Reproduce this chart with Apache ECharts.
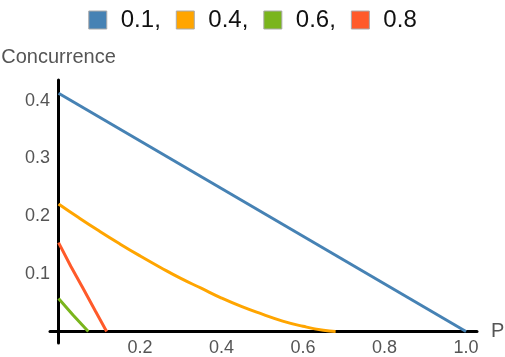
<!DOCTYPE html>
<html>
<head>
<meta charset="utf-8">
<script src="https://cdn.jsdelivr.net/npm/echarts@6/dist/echarts.min.js"></script>
<style>html,body{margin:0;padding:0;background:#fff}#c{width:505px;height:357px}</style>
</head>
<body>
<div id="c"></div>
<script>
var seriesNames = ['0.1,', '0.4,', '0.6,', '0.8'];
var seriesColors = ['#4682B4', '#FFA500', '#7AB51D', '#FF5A2A'];
var pBlue = [0, 1.0];
var cBlue = [0.413, 0];
var pOrange = [0, 0.05, 0.1, 0.15, 0.2, 0.25, 0.3, 0.35, 0.4, 0.45, 0.5, 0.55, 0.6, 0.65, 0.68];
var cOrange = [0.221, 0.197, 0.174, 0.152, 0.131, 0.111, 0.092, 0.075, 0.058, 0.043, 0.030, 0.018, 0.009, 0.002, 0];
var pGreen = [0, 0.036, 0.073];
var cGreen = [0.057, 0.028, 0];
var pRed = [0, 0.03, 0.06, 0.09, 0.118];
var cRed = [0.154, 0.113, 0.075, 0.036, 0];
var xTicks = [0.2, 0.4, 0.6, 0.8, 1.0];
var yTicks = [0.1, 0.2, 0.3, 0.4];

function zip(a, b) { return a.map(function (v, i) { return [v, b[i]]; }); }
var allP = [pBlue, pOrange, pGreen, pRed];
var allC = [cBlue, cOrange, cGreen, cRed];

var chart = echarts.init(document.getElementById('c'), null, {renderer: 'canvas'});
var textColor = '#555';
var font = 'Liberation Sans, Arial, sans-serif';
chart.setOption({
  animation: false,
  textStyle: {fontFamily: font},
  legend: {
    top: 3,
    left: 'center',
    itemWidth: 18,
    itemHeight: 18,
    itemGap: 15,
    icon: 'rect',
    itemStyle: {borderColor: '#aaa', borderWidth: 1},
    textStyle: {fontSize: 24, color: '#111', fontFamily: font, padding: [0, 0, 0, 9]},
    data: seriesNames
  },
  grid: {left: 50, right: 28, top: 80, bottom: 14, containLabel: false, outerBoundsMode: 'none'},
  xAxis: {
    type: 'value',
    min: -0.021,
    max: 1.027,
    name: 'P',
    nameLocation: 'end',
    nameGap: 14,
    nameTextStyle: {fontSize: 20, color: textColor, fontFamily: font},
    axisLine: {onZero: true, lineStyle: {color: '#000', width: 3}},
    axisTick: {show: false},
    splitLine: {show: false},
    axisLabel: {
      fontSize: 18, color: textColor, fontFamily: font, margin: -4,
      customValues: xTicks,
      formatter: function (v) { return v.toFixed(1); }
    }
  },
  yAxis: {
    type: 'value',
    min: -0.02,
    max: 0.436,
    name: 'Concurrence',
    nameLocation: 'end',
    nameGap: 13,
    nameTextStyle: {fontSize: 20, color: textColor, fontFamily: font},
    axisLine: {onZero: true, lineStyle: {color: '#000', width: 3}},
    axisTick: {show: false},
    splitLine: {show: false},
    axisLabel: {
      fontSize: 18, color: textColor, fontFamily: font, margin: 0,
      customValues: yTicks,
      formatter: function (v) { return v.toFixed(1); }
    }
  },
  series: seriesNames.map(function (n, i) {
    return {
      name: n,
      type: 'line',
      data: zip(allP[i], allC[i]),
      showSymbol: false,
      smooth: i === 1 ? 0.5 : false,
      itemStyle: {color: seriesColors[i]},
      lineStyle: {color: seriesColors[i], width: 3}
    };
  })
});
</script>
</body>
</html>
